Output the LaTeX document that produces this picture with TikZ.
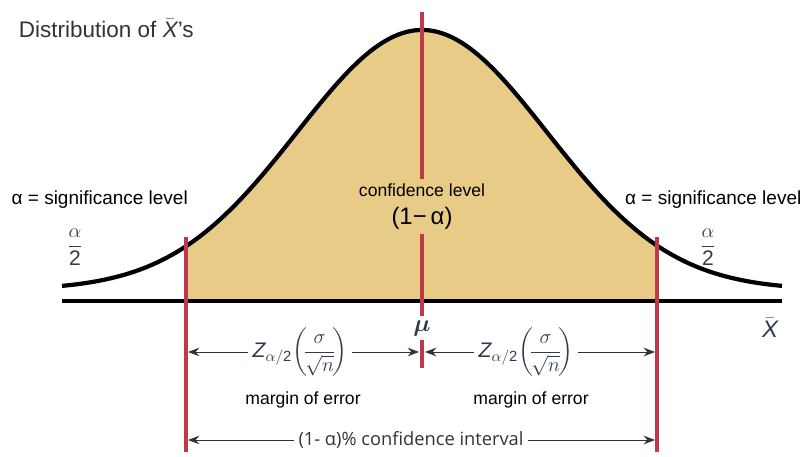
\documentclass[tikz,border=0pt]{standalone}
\usepackage{amsmath}
\usepackage{fontspec}
\setmainfont{Liberation Sans}
\newfontfamily\opensans{Open Sans}
\usetikzlibrary{arrows.meta}
\definecolor{bellFill}{HTML}{E8CB87}
\definecolor{ciRed}{HTML}{BD3A4A}
\definecolor{labelGray}{HTML}{333333}
\definecolor{mathSlate}{HTML}{2F3C4E}
\tikzset{
  redline/.style={draw=ciRed, line width=3pt},
  bellcurve/.style={draw=black, line width=3pt},
  axisline/.style={draw=black, line width=2.8pt},
  dimarr/.style={-{Stealth[length=8pt,width=6pt]}, draw=labelGray, line width=0.6pt},
  sidelabel/.style={font=\fontsize{13.5}{15}\selectfont, text=black, inner sep=1pt},
  fraclabel/.style={text=mathSlate, font=\fontsize{15}{17}\selectfont},
  errlabel/.style={font=\fontsize{12.5}{14}\selectfont, text=black}
}
\newcommand{\zmargin}{$\text{\itshape Z}_{\alpha/\text{2}}\!\left(\!\dfrac{\sigma}{\sqrt{n}}\!\right)$}

\begin{document}
\begin{tikzpicture}[
  x=0.025cm, y=-0.025cm,
  declare function={bell(\t)=290-260*exp(-0.5*((\t-422)/125)^2);}
]
\useasboundingbox (0,0) rectangle (804,457);

% shaded confidence region
\fill[bellFill] (186,301) -- plot[domain=186:657, samples=80] (\x,{bell(\x)}) -- (657,301) -- cycle;

% axis and curve
\draw[axisline] (62,301) -- (782,301);
\draw[bellcurve] plot[domain=62:782, samples=160] (\x,{bell(\x)});

% end points
\coordinate (ltop) at (186,237);
\coordinate (lbot) at (186,452);
\coordinate (rtop) at (657,237);
\coordinate (rbot) at (657,452);
\coordinate (ctop) at (422,12);
\coordinate (cbot) at (422,368);
\coordinate (lmarg) at (188,352);
\coordinate (cmargL) at (419,352);
\coordinate (cmargR) at (425,352);
\coordinate (rmarg) at (655,352);
\coordinate (lci) at (188,440);
\coordinate (rci) at (655,440);

% labels
\node[font=\fontsize{16}{18}\selectfont, text=labelGray, anchor=west] (title) at (14,28) {Distribution of $\bar{\text{\itshape X}}$'s};
\node[sidelabel, anchor=west] (sigL) at (10,200) {α = significance level};
\node[sidelabel, anchor=east] (sigR) at (803,200) {α = significance level};
\node[fraclabel] (halfL) at (75,247) {$\dfrac{\alpha}{\text{2}}$};
\node[fraclabel] (halfR) at (708,247) {$\dfrac{\alpha}{\text{2}}$};
\node[errlabel] (conf) at (422,190) {confidence level};
\node[font=\fontsize{17}{19}\selectfont] (onem) at (422,218) {(1−\,α)};
\node[fraclabel, font=\fontsize{17}{19}\selectfont, inner sep=3pt] (mu) at (422,328) {$\boldsymbol{\mu}$};
\node[fraclabel, font=\fontsize{17}{19}\selectfont] (xbar) at (770,328) {$\bar{\text{\itshape X}}$};

% margins of error
\node[fraclabel] (zl) at (300,352) {\zmargin};
\node[fraclabel] (zr) at (526,352) {\zmargin};
\node[errlabel] (moeL) at (303,400) {margin of error};
\node[errlabel] (moeR) at (531,400) {margin of error};
\node[font=\opensans\fontsize{13}{15}\selectfont, text=labelGray] (ci) at (411,440) {(1- α)\% confidence interval};

\draw[dimarr] (zl.west) -- (lmarg);
\draw[dimarr] (zl.east) -- (cmargL);
\draw[dimarr] (zr.west) -- (cmargR);
\draw[dimarr] (zr.east) -- (rmarg);
\draw[dimarr] (ci.west) -- (lci);
\draw[dimarr] (ci.east) -- (rci);

% red boundaries
\draw[redline] (ltop) -- (lbot);
\draw[redline] (rtop) -- (rbot);
\draw[redline] (ctop) -- (conf.north);
\draw[redline] (onem.south) -- (mu.north);
\draw[redline] (mu.south) -- (cbot);
\end{tikzpicture}
\end{document}
